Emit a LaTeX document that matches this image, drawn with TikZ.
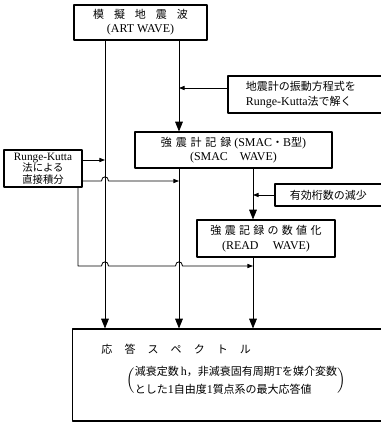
\documentclass[tikz,border=0pt]{standalone}
\usepackage{fontspec}
\setmainfont{Liberation Serif}
\newfontfamily\cjk[Scale=0.92]{Noto Sans CJK JP}
\newcommand\ja[1]{{\cjk #1}}
\usetikzlibrary{arrows.meta}
\tikzset{
  every picture/.style={line join=round, line width=0.6pt},
  box/.style={draw, line width=0.75pt, align=center, inner sep=0pt, font=\fontsize{8.5}{10}\selectfont},
  sidebox/.style={box, align=left, inner ysep=0pt},
  label/.style={inner sep=0pt, font=\fontsize{8.5}{10}\selectfont},
  bigarrow/.style={-{Triangle[length=7pt,width=5.5pt]}},
  smallarrow/.style={-{Triangle[length=4pt,width=3pt]}},
}

\begin{document}
\begin{tikzpicture}[x=0.025cm,y=-0.025cm]
\path[use as bounding box](0,0)rectangle(381,423);
\clip(0,0)rectangle(381,423);
% the three vertical tracks
\coordinate(xl)at(105,0);
\coordinate(xm)at(179,0);
\coordinate(xr)at(253,0);
% boxes
\node[box,minimum width=3.325cm,minimum height=0.875cm](art)at(140.5,22.5)
  {\ja{模\hspace{0.9em}擬\hspace{0.9em}地\hspace{0.9em}震\hspace{0.9em}波}\\(ART WAVE)};
\node[sidebox,text width=3.05cm,inner xsep=0.45cm,minimum height=0.925cm,font=\fontsize{8.5}{10.5}\selectfont](eq)at(307,94.5)
  {\ja{地震計の振動方程式を}\\Runge-Kutta\ja{法で解く}};
\node[box,minimum width=4.925cm,minimum height=0.9cm](smac)at(233.5,150)
  {\ja{強\hspace{.35em}震\hspace{.35em}計\hspace{.35em}記\hspace{.35em}録}\ (SMAC\ja{・}B\ja{型})\\(SMAC\hspace{1em}WAVE)};
\node[box,minimum width=1.95cm,minimum height=0.925cm,font=\fontsize{8}{8.2}\selectfont](rk)at(43,168.5)
  {Runge-Kutta\\\ja{法による}\\\ja{直接積分}};
\node[sidebox,text width=2.025cm,inner xsep=0.375cm,minimum height=0.55cm](gen)at(330.5,195)
  {\ja{有効桁数の減少}};
\node[box,minimum width=3.45cm,minimum height=0.925cm,font=\fontsize{8.5}{10.5}\selectfont](read)at(266,238.5)
  {\ja{強\hspace{.3em}震\hspace{.3em}記\hspace{.3em}録\hspace{.3em}の\hspace{.3em}数\hspace{.3em}値\hspace{.3em}化}\\(READ\hspace{1.2em}WAVE)};
\node[box,minimum width=7.825cm,minimum height=2.3cm](resp)at(229.5,375){};
\node[label,anchor=west](resptitle)at(101,349)
  {\ja{応\hspace{1.1em}答\hspace{1.1em}ス\hspace{1.1em}ペ\hspace{1.1em}ク\hspace{1.1em}ト\hspace{1.1em}ル}};
\node[label,anchor=west](respnote)at(126,381)
  {\delimiterfactor=700 \delimitershortfall=10pt
   $\left(\def\arraystretch{1.25}\begin{tabular}{@{}l@{}}\ja{減衰定数}\,h\ja{，非減衰固有周期}T\ja{を媒介変数}\\
   \ja{とした}1\ja{自由度}1\ja{質点系の最大応答値}\end{tabular}\right)$};
% main flow
\draw[bigarrow](art.south -| xl)--(resp.north -| xl);
\draw[bigarrow](art.south -| xm)--(smac.north -| xm);
\draw[bigarrow](smac.south -| xm)--(resp.north -| xm);
\draw[bigarrow](smac.south -| xr)--(read.north -| xr);
\draw[bigarrow](read.south -| xr)--(resp.north -| xr);
% side inputs
\coordinate(eqin)at(179,88);
\draw[smallarrow](eq.west |- eqin)--(eqin);
\draw[smallarrow](gen.west)--(gen.west -| xr);
\coordinate(rkin)at(105,160);
\draw[smallarrow](rk.east |- rkin)--(rkin);
\coordinate(rkmid)at(179,181);
\draw[smallarrow](rk.east |- rkmid)--(101.5,181)..controls(101.5,175.5)and(108.5,175.5)..(108.5,181)--(rkmid);
\coordinate(rkcorner)at(78,266);
\coordinate(rkout)at(253,266);
\draw[smallarrow](rk.south -| rkcorner)--(rkcorner)--(101.5,266)..controls(101.5,260.5)and(108.5,260.5)..(108.5,266)
  --(175.5,266)..controls(175.5,260.5)and(182.5,260.5)..(182.5,266)--(rkout);
\end{tikzpicture}
\end{document}
